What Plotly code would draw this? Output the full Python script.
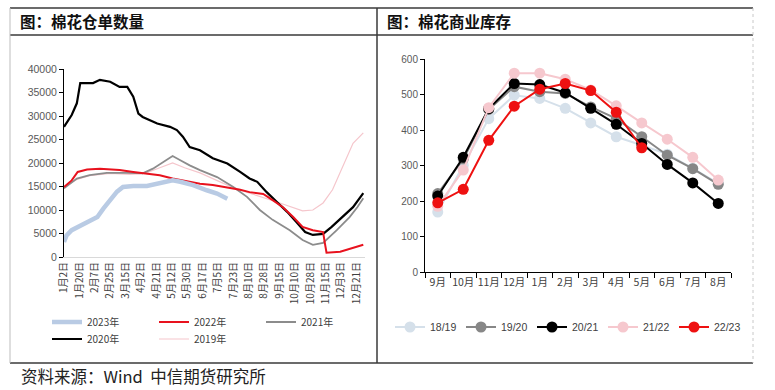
import plotly.graph_objects as go

W, H = 775, 390
def px(x): return x / W
def py(y): return 1 - y / H

# ---------------- Left chart: 棉花仓单数量 ----------------
date_labels = ["1月2日", "1月20日", "2月7日", "2月25日", "3月15日", "4月2日", "4月21日",
               "5月12日", "5月30日", "6月17日", "7月5日", "7月23日", "8月10日", "8月28日",
               "9月15日", "10月10日", "10月28日", "11月15日", "12月3日", "12月21日"]
tick_step = 18
tick_vals = [i * tick_step for i in range(len(date_labels))]

x2023 = [0, 3, 9, 19, 30, 39, 46, 54, 62, 69, 81, 97, 109, 120, 127, 136, 151, 167, 179, 191]
y2023 = [3200, 4600, 5700, 6700, 7800, 8500, 10300, 12100, 13900, 14900, 15100, 15100, 15600,
         16100, 16300, 16000, 15300, 14200, 13500, 12400]

x2022 = [0, 9, 16, 27, 42, 65, 81, 97, 112, 127, 144, 159, 174, 191, 206, 217, 233, 244, 256,
         268, 279, 291, 303, 305, 307, 323, 338, 350]
y2022 = [14900, 16300, 18100, 18600, 18800, 18500, 18100, 17800, 17400, 16700, 16100, 15600,
         15300, 14800, 14300, 13800, 13400, 12100, 10600, 8500, 6400, 5700, 5300, 3000, 900,
         1100, 1900, 2600]

x2021 = [0, 15, 30, 50, 74, 92, 104, 116, 127, 136, 147, 159, 179, 198, 214, 229, 244, 264,
         279, 291, 303, 319, 334, 343, 350]
y2021 = [14600, 16700, 17400, 17900, 17900, 17800, 18800, 20200, 21500, 20600, 19500, 18500,
         17000, 14900, 12800, 10000, 7900, 5700, 3600, 2600, 3000, 5700, 8500, 10600, 12500]

x2020 = [0, 9, 15, 19, 34, 42, 54, 65, 74, 81, 87, 92, 109, 124, 132, 139, 147, 159, 174, 191,
         206, 217, 226, 237, 249, 261, 272, 282, 291, 303, 313, 326, 338, 350]
y2020 = [27700, 30200, 32700, 37000, 37000, 37700, 37300, 36200, 36200, 34100, 30500, 29800,
         28400, 27700, 27000, 25600, 23400, 22700, 21000, 19900, 18100, 16700, 16000, 13800,
         11700, 9600, 7400, 5300, 4700, 4900, 6400, 8500, 10600, 13600]

x2019 = [0, 15, 30, 54, 77, 95, 112, 127, 141, 159, 191, 217, 249, 268, 279, 291, 303, 314,
         323, 331, 338, 350]
y2019 = [14900, 16500, 17300, 17800, 17600, 17800, 19000, 20000, 19000, 17900, 15300, 13600,
         11700, 10400, 9800, 10000, 11500, 14300, 17900, 21300, 24200, 26400]

# ---------------- Right chart: 棉花商业库存 ----------------
months = ["9月", "10月", "11月", "12月", "1月", "2月", "3月", "4月", "5月", "6月", "7月", "8月"]
s1819 = [169, 300, 432, 498, 489, 461, 420, 381, 357, 332, 292, 250]
s1920 = [221, 318, 458, 522, 508, 503, 465, 432, 381, 329, 291, 247]
s2021 = [214, 323, 460, 531, 528, 505, 461, 416, 362, 303, 251, 193]
s2122 = [185, 287, 463, 560, 560, 543, 513, 468, 420, 374, 323, 259]
s2223 = [195, 233, 371, 467, 515, 531, 511, 450, 350]

FONT = "Liberation Sans, Arial, Noto Sans CJK SC, sans-serif"
CJK = "Noto Sans CJK SC, sans-serif"

fig = go.Figure()

left_series = [
    ("2019年", x2019, y2019, "#f5c6cc", 1.2, 5, "legend2"),
    ("2020年", x2020, y2020, "#000000", 2.2, 4, "legend2"),
    ("2021年", x2021, y2021, "#8c8c8c", 1.8, 3, "legend"),
    ("2022年", x2022, y2022, "#e8121e", 2.0, 2, "legend"),
    ("2023年", x2023, y2023, "#b9cbe4", 4.5, 1, "legend"),
]
for name, xs, ys, col, w, rank, lg in left_series:
    fig.add_trace(go.Scatter(x=xs, y=ys, mode="lines", name=name,
                             line=dict(color=col, width=w),
                             xaxis="x", yaxis="y", legend=lg, legendrank=rank))

right_series = [
    ("18/19", s1819, "#d5e0ea"),
    ("19/20", s1920, "#878787"),
    ("20/21", s2021, "#000000"),
    ("21/22", s2122, "#f6c8ce"),
    ("22/23", s2223, "#ee1111"),
]
for name, vals, col in right_series:
    fig.add_trace(go.Scatter(x=months[:len(vals)], y=vals, mode="lines+markers", name=name,
                             line=dict(color=col, width=2),
                             marker=dict(color=col, size=11),
                             xaxis="x2", yaxis="y2", legend="legend3"))

axis_font = dict(family=FONT, size=10, color="#595959")

fig.update_layout(
    width=W, height=H,
    margin=dict(l=0, r=0, t=0, b=0, autoexpand=False),
    paper_bgcolor="white", plot_bgcolor="white",
    showlegend=True,
    xaxis=dict(domain=[px(64), px(365)], range=[0, 352], tickmode="array",
               tickvals=tick_vals, ticktext=date_labels, tickangle=-90,
               tickfont=dict(family=CJK, size=10, color="#404040"),
               showgrid=False, zeroline=False, showline=True, linecolor="#d9d9d9",
               linewidth=1, ticks="", ticklen=0, anchor="y", fixedrange=True),
    yaxis=dict(domain=[py(257), py(69)], range=[0, 40000], dtick=5000, tickformat="d",
               tickfont=dict(family=FONT, size=10.5, color="#595959"),
               showgrid=False, zeroline=False, showline=True,
               linecolor="#000000", linewidth=1, ticks="outside", ticklen=4,
               tickcolor="#000000", anchor="x", fixedrange=True),
    xaxis2=dict(domain=[px(425), px(731)], type="category", categoryorder="array",
                categoryarray=months, range=[-0.5, 11.5], tickson="boundaries",
                ticks="outside", ticklen=5, tickcolor="#000000", tickangle=0,
                tickfont=dict(family=CJK, size=10.5, color="#404040"),
                showgrid=False, zeroline=False, showline=True, linecolor="#000000",
                linewidth=1, anchor="y2", fixedrange=True),
    yaxis2=dict(domain=[py(272), py(59)], range=[0, 600], dtick=100,
                tickfont=axis_font, showgrid=False, zeroline=False, showline=True,
                linecolor="#000000", linewidth=1, ticks="outside", ticklen=4,
                tickcolor="#000000", anchor="x2", fixedrange=True),
    legend=dict(orientation="h", x=px(47), y=py(322), xanchor="left", yanchor="middle",
                entrywidthmode="pixels", entrywidth=62, itemwidth=30,
                font=dict(family=CJK, size=10, color="#404040"),
                bgcolor="rgba(0,0,0,0)", tracegroupgap=0, traceorder="normal"),
    legend2=dict(orientation="h", x=px(47), y=py(339), xanchor="left", yanchor="middle",
                 entrywidthmode="pixels", entrywidth=62, itemwidth=30,
                 font=dict(family=CJK, size=10, color="#404040"),
                 bgcolor="rgba(0,0,0,0)", traceorder="normal"),
    legend3=dict(orientation="h", x=px(390), y=py(327), xanchor="left", yanchor="middle",
                 entrywidthmode="pixels", entrywidth=26, itemwidth=30,
                 font=dict(family=FONT, size=10.5, color="#404040"),
                 bgcolor="rgba(0,0,0,0)", traceorder="normal"),
)

line_dark = "#3a3a3a"
shapes = [
    dict(x0=px(10), x1=px(753), y0=py(8), y1=py(8), color=line_dark, w=1.5, dash="solid"),
    dict(x0=px(10), x1=px(753), y0=py(35), y1=py(35), color=line_dark, w=1.5, dash="solid"),
    dict(x0=px(10), x1=px(753), y0=py(363), y1=py(363), color=line_dark, w=1.5, dash="solid"),
    dict(x0=px(377), x1=px(377), y0=py(8), y1=py(363), color=line_dark, w=1.5, dash="solid"),
    dict(x0=px(10), x1=px(10), y0=py(8), y1=py(363), color="#bdbdbd", w=1, dash="solid"),
    dict(x0=px(753), x1=px(753), y0=py(8), y1=py(363), color="#c8c8c8", w=1, dash="dot"),
]
for s in shapes:
    fig.add_shape(type="line", xref="paper", yref="paper", x0=s["x0"], x1=s["x1"],
                  y0=s["y0"], y1=s["y1"], line=dict(color=s["color"], width=s["w"], dash=s["dash"]))

title_font = dict(family=CJK, size=15.5, color="#111111")
fig.add_annotation(text="<b>图：棉花仓单数量</b>", xref="paper", yref="paper",
                   x=px(18), y=py(21), xanchor="left", yanchor="middle",
                   showarrow=False, font=title_font)
fig.add_annotation(text="<b>图：棉花商业库存</b>", xref="paper", yref="paper",
                   x=px(385), y=py(21), xanchor="left", yanchor="middle",
                   showarrow=False, font=title_font)
fig.add_annotation(text="资料来源：Wind  中信期货研究所", xref="paper", yref="paper",
                   x=px(19), y=py(376), xanchor="left", yanchor="middle",
                   showarrow=False, font=dict(family=CJK, size=16.5, color="#222222"))

fig.write_html("out.html", config={"displayModeBar": False},
               post_script="document.body.style.margin='0';document.body.style.overflow='hidden';")
